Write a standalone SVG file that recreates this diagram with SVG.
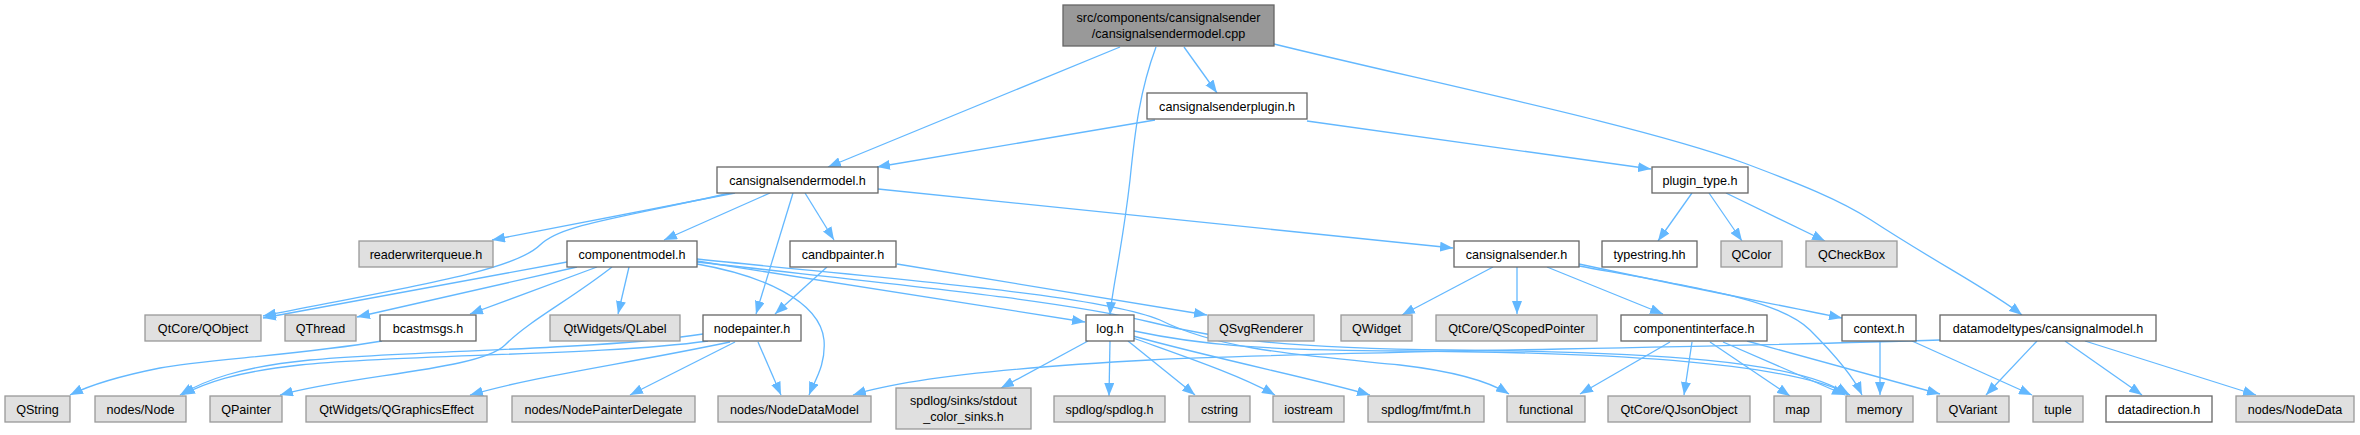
<svg xmlns="http://www.w3.org/2000/svg" width="2360" height="435" viewBox="0 0 2360 435">
<style>
text{font-family:"Liberation Sans",Arial,Helvetica,sans-serif;font-size:12.6px;text-anchor:middle;fill:#000}
.n rect{fill:#fff;stroke:#666;stroke-width:1.3}
.g rect{fill:#e0e0e0;stroke:#999;stroke-width:1.3}
.m rect{fill:#999;stroke:#666;stroke-width:1.3}
#edges path{fill:none;stroke:#63b8ff;stroke-width:1.3;marker-end:url(#a)}
</style>
<defs>
<marker id="a" markerUnits="userSpaceOnUse" markerWidth="13" markerHeight="10" refX="13" refY="5" orient="auto">
<path d="M0,0 L13,5 L0,10 z" fill="#63b8ff"/>
</marker>
</defs>
<rect width="2360" height="435" fill="#fff"/>
<g id="edges">
<path d="M1120,47 L828,167"/>
<path d="M1156,47 C1140,90 1135,130 1130,180 C1122,250 1112,290 1110,315"/>
<path d="M1184,47 L1217,93"/>
<path d="M1274,44 C1420,80 1640,125 1744,163 C1800,184 1840,200 1871,220 C1940,265 1990,290 2022,315"/>
<path d="M1155,120 L877,167"/>
<path d="M1307,121 L1651,169"/>
<path d="M735,193 L492,240"/>
<path d="M730,193 C610,220 560,225 540,245 C515,270 420,285 263,316"/>
<path d="M770,193 L664,240"/>
<path d="M793,193 L756,314"/>
<path d="M805,193 L834,240"/>
<path d="M878,189 L1453,248"/>
<path d="M1692,193 L1658,241"/>
<path d="M1709,193 L1742,241"/>
<path d="M1726,193 L1825,241"/>
<path d="M567,262 L263,318"/>
<path d="M577,267 L357,317"/>
<path d="M597,267 L470,314"/>
<path d="M629,267 L618,314"/>
<path d="M612,267 C570,300 530,320 505,345 C480,370 350,375 280,395"/>
<path d="M697,261 L1085,322"/>
<path d="M697,259 C900,280 1100,295 1160,320 C1220,350 1300,355 1400,365 C1460,372 1490,382 1509,394"/>
<path d="M697,264 C760,275 820,300 824,340 C826,365 815,380 809,395"/>
<path d="M697,262 C900,285 1060,300 1150,322 C1220,340 1290,348 1450,350 C1650,352 1800,360 1848,395"/>
<path d="M1088,341 L1001,388"/>
<path d="M1110,341 L1109,396"/>
<path d="M1128,341 L1195,395"/>
<path d="M1133,338 C1180,355 1240,375 1275,395"/>
<path d="M1133,336 C1220,360 1320,380 1370,395"/>
<path d="M1134,331 C1200,345 1260,350 1400,351 C1600,352 1790,362 1850,395"/>
<path d="M827,267 L775,314"/>
<path d="M897,264 L1207,315"/>
<path d="M703,334 C600,350 420,350 310,360 C240,367 205,380 180,395"/>
<path d="M708,341 C600,356 400,354 300,365 C235,372 205,383 182,395"/>
<path d="M730,342 C620,365 540,375 470,395"/>
<path d="M735,342 L630,395"/>
<path d="M758,342 L781,395"/>
<path d="M382,341 C300,355 200,360 160,368 C120,376 90,385 70,395"/>
<path d="M1493,267 L1402,315"/>
<path d="M1517,267 L1517,314"/>
<path d="M1547,267 L1663,314"/>
<path d="M1579,264 C1700,290 1780,305 1842,318"/>
<path d="M1579,266 C1700,288 1780,300 1810,330 C1840,360 1855,380 1862,395"/>
<path d="M1670,342 L1580,394"/>
<path d="M1692,342 L1684,395"/>
<path d="M1710,342 L1790,396"/>
<path d="M1723,342 L1845,395"/>
<path d="M1747,341 L1940,394"/>
<path d="M1880,342 L1880,395"/>
<path d="M1912,341 L2032,395"/>
<path d="M1940,340 C1700,348 1300,352 1150,360 C1000,368 900,380 853,395"/>
<path d="M2037,341 L1986,395"/>
<path d="M2065,341 L2142,395"/>
<path d="M2085,341 L2256,395"/>
</g>
<g id="main" class="m"><rect x="1063" y="5" width="211" height="41"/><text x="1168.5" y="22">src/components/cansignalsender</text><text x="1168.5" y="38">/cansignalsendermodel.cpp</text></g>
<g id="cansignalsenderplugin" class="n"><rect x="1147" y="93" width="160" height="26"/><text x="1227" y="111">cansignalsenderplugin.h</text></g>
<g id="cansignalsendermodel" class="n"><rect x="717" y="167" width="161" height="26"/><text x="797.5" y="185">cansignalsendermodel.h</text></g>
<g id="plugin_type" class="n"><rect x="1652" y="167" width="96" height="26"/><text x="1700" y="185">plugin_type.h</text></g>
<g id="readerwriterqueue" class="g"><rect x="359" y="241" width="134" height="26"/><text x="426" y="259">readerwriterqueue.h</text></g>
<g id="componentmodel" class="n"><rect x="567" y="241" width="130" height="26"/><text x="632" y="259">componentmodel.h</text></g>
<g id="candbpainter" class="n"><rect x="790" y="241" width="106" height="26"/><text x="843" y="259">candbpainter.h</text></g>
<g id="cansignalsender" class="n"><rect x="1454" y="241" width="125" height="26"/><text x="1516.5" y="259">cansignalsender.h</text></g>
<g id="typestring" class="n"><rect x="1602" y="241" width="95" height="26"/><text x="1649.5" y="259">typestring.hh</text></g>
<g id="QColor" class="g"><rect x="1721" y="241" width="61" height="26"/><text x="1751.5" y="259">QColor</text></g>
<g id="QCheckBox" class="g"><rect x="1806" y="241" width="91" height="26"/><text x="1851.5" y="259">QCheckBox</text></g>
<g id="QObject" class="g"><rect x="145" y="315" width="116" height="26"/><text x="203" y="333">QtCore/QObject</text></g>
<g id="QThread" class="g"><rect x="285" y="315" width="71" height="26"/><text x="320.5" y="333">QThread</text></g>
<g id="bcastmsgs" class="n"><rect x="380" y="315" width="96" height="26"/><text x="428" y="333">bcastmsgs.h</text></g>
<g id="QLabel" class="g"><rect x="550" y="315" width="130" height="26"/><text x="615" y="333">QtWidgets/QLabel</text></g>
<g id="nodepainter" class="n"><rect x="703" y="315" width="98" height="26"/><text x="752" y="333">nodepainter.h</text></g>
<g id="log" class="n"><rect x="1086" y="315" width="48" height="26"/><text x="1110" y="333">log.h</text></g>
<g id="QSvgRenderer" class="g"><rect x="1208" y="315" width="106" height="26"/><text x="1261" y="333">QSvgRenderer</text></g>
<g id="QWidget" class="g"><rect x="1341" y="315" width="71" height="26"/><text x="1376.5" y="333">QWidget</text></g>
<g id="QScopedPointer" class="g"><rect x="1436" y="315" width="161" height="26"/><text x="1516.5" y="333">QtCore/QScopedPointer</text></g>
<g id="componentinterface" class="n"><rect x="1621" y="315" width="146" height="26"/><text x="1694" y="333">componentinterface.h</text></g>
<g id="context" class="n"><rect x="1842" y="315" width="74" height="26"/><text x="1879" y="333">context.h</text></g>
<g id="cansignalmodel" class="n"><rect x="1940" y="315" width="216" height="26"/><text x="2048" y="333">datamodeltypes/cansignalmodel.h</text></g>
<g id="QString" class="g"><rect x="5" y="396" width="65" height="26"/><text x="37.5" y="414">QString</text></g>
<g id="Node" class="g"><rect x="95" y="396" width="91" height="26"/><text x="140.5" y="414">nodes/Node</text></g>
<g id="QPainter" class="g"><rect x="210" y="396" width="72" height="26"/><text x="246" y="414">QPainter</text></g>
<g id="QGraphicsEffect" class="g"><rect x="306" y="396" width="181" height="26"/><text x="396.5" y="414">QtWidgets/QGraphicsEffect</text></g>
<g id="NodePainterDelegate" class="g"><rect x="512" y="396" width="183" height="26"/><text x="603.5" y="414">nodes/NodePainterDelegate</text></g>
<g id="NodeDataModel" class="g"><rect x="718" y="396" width="153" height="26"/><text x="794.5" y="414">nodes/NodeDataModel</text></g>
<g id="stdout_color_sinks" class="g"><rect x="896" y="388" width="135" height="41"/><text x="963.5" y="405">spdlog/sinks/stdout</text><text x="963.5" y="421">_color_sinks.h</text></g>
<g id="spdlog" class="g"><rect x="1054" y="396" width="111" height="26"/><text x="1109.5" y="414">spdlog/spdlog.h</text></g>
<g id="cstring" class="g"><rect x="1189" y="396" width="61" height="26"/><text x="1219.5" y="414">cstring</text></g>
<g id="iostream" class="g"><rect x="1273" y="396" width="71" height="26"/><text x="1308.5" y="414">iostream</text></g>
<g id="fmt" class="g"><rect x="1368" y="396" width="116" height="26"/><text x="1426" y="414">spdlog/fmt/fmt.h</text></g>
<g id="functional" class="g"><rect x="1507" y="396" width="78" height="26"/><text x="1546" y="414">functional</text></g>
<g id="QJsonObject" class="g"><rect x="1608" y="396" width="142" height="26"/><text x="1679" y="414">QtCore/QJsonObject</text></g>
<g id="map" class="g"><rect x="1774" y="396" width="47" height="26"/><text x="1797.5" y="414">map</text></g>
<g id="memory" class="g"><rect x="1846" y="396" width="67" height="26"/><text x="1879.5" y="414">memory</text></g>
<g id="QVariant" class="g"><rect x="1937" y="396" width="72" height="26"/><text x="1973" y="414">QVariant</text></g>
<g id="tuple" class="g"><rect x="2033" y="396" width="50" height="26"/><text x="2058" y="414">tuple</text></g>
<g id="datadirection" class="n"><rect x="2106" y="396" width="106" height="26"/><text x="2159" y="414">datadirection.h</text></g>
<g id="NodeData" class="g"><rect x="2236" y="396" width="118" height="26"/><text x="2295" y="414">nodes/NodeData</text></g>
</svg>
